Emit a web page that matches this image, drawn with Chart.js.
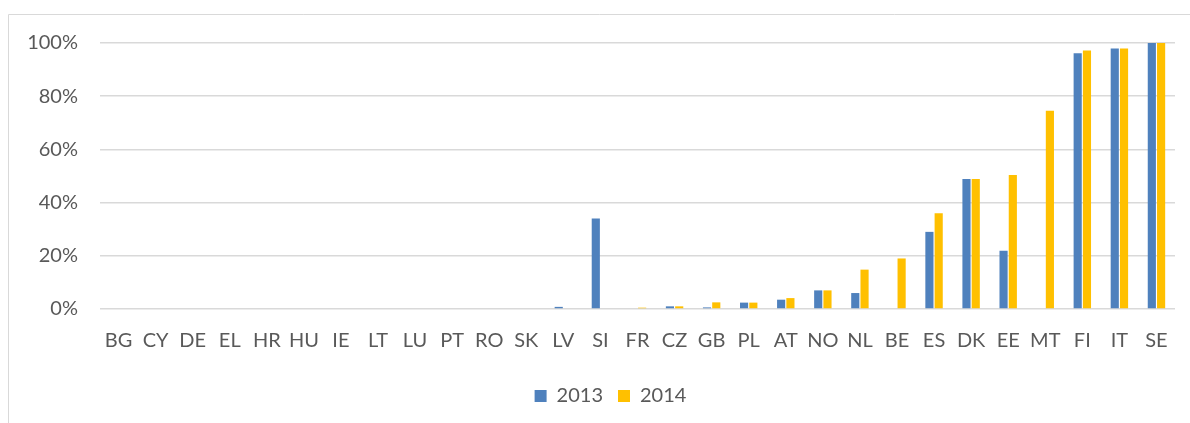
<!DOCTYPE html>
<html>
<head>
<meta charset="utf-8">
<script src="https://cdn.jsdelivr.net/npm/chart.js@4/dist/chart.umd.min.js"></script>
<style>
html,body{margin:0;padding:0;background:#fff;}
#wrap{position:absolute;left:0;top:0;width:1190px;height:423px;}
</style>
</head>
<body>
<div id="wrap"><canvas id="c" width="1190" height="423"></canvas></div>
<script>
const categories = ["BG","CY","DE","EL","HR","HU","IE","LT","LU","PT","RO","SK","LV","SI","FR","CZ","GB","PL","AT","NO","NL","BE","ES","DK","EE","MT","FI","IT","SE"];
const series2013 = [0,0,0,0,0,0,0,0,0,0,0,0,0.8,34,0,1,0.6,2.4,3.5,7,6,0,29,48.9,21.9,0,96.1,97.9,100];
const series2014 = [0,0,0,0,0,0,0,0,0,0,0,0,0,0,0.5,1,2.5,2.4,4.1,7,14.8,19,36,48.9,50.4,74.5,97.2,97.9,100];
const yTicks = [0,20,40,60,80,100];

const frame = {
  id:'frame',
  beforeDraw(chart){
    const ctx = chart.ctx;
    ctx.save();
    ctx.strokeStyle = '#d9d9d9';
    ctx.lineWidth = 1;
    ctx.beginPath();
    ctx.moveTo(8.5, 423);
    ctx.lineTo(8.5, 14.5);
    ctx.lineTo(1190, 14.5);
    ctx.stroke();
    ctx.restore();
  }
};

const shiftLegend = {
  id:'shiftLegend',
  afterLayout(chart){
    if (chart.legend) { chart.legend.left += 23; chart.legend.right += 23; }
  }
};

Chart.defaults.font.family = 'Lato, "Open Sans", sans-serif';
Chart.defaults.color = '#595959';

new Chart(document.getElementById('c'), {
  type: 'bar',
  data: {
    labels: categories,
    datasets: [
      {label:'2013', data: series2013, backgroundColor:'#4f81bd', borderWidth:0,
       categoryPercentage:0.5, barPercentage:0.88},
      {label:'2014', data: series2014, backgroundColor:'#ffc000', borderWidth:0,
       categoryPercentage:0.5, barPercentage:0.88}
    ]
  },
  options: {
    responsive:false,
    animation:false,
    layout:{padding:{left:0,right:15,top:43,bottom:7}},
    plugins:{
      legend:{
        position:'bottom',
        labels:{boxWidth:12, boxHeight:12, font:{size:20}, padding:15, color:'#595959'}
      },
      tooltip:{enabled:false}
    },
    scales:{
      x:{
        grid:{display:false},
        border:{display:false},
        ticks:{font:{size:20}, color:'#595959', maxRotation:0, autoSkip:false, padding:12},
        afterFit(s){ s.height = 62; }
      },
      y:{
        min:0, max:100,
        afterBuildTicks(s){ s.ticks = yTicks.map(v=>({value:v})); },
        grid:{color:'#d9d9d9', lineWidth:1.5, drawTicks:false},
        border:{display:false},
        ticks:{font:{size:20}, color:'#595959', padding:22, callback:v=>v+'%'},
        afterFit(s){ s.width = 100; }
      }
    }
  },
  plugins:[frame, shiftLegend]
});
</script>
</body>
</html>
